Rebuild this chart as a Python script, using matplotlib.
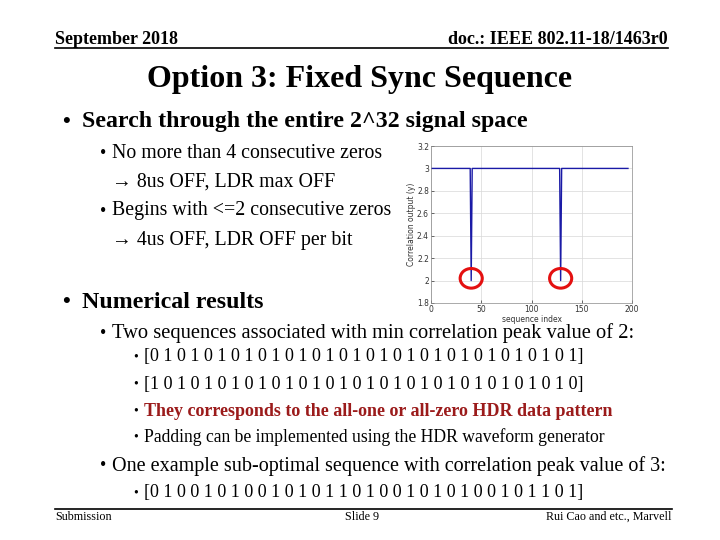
import matplotlib.pyplot as plt
from matplotlib.patches import Ellipse

# correlation output vs sequence index (breakpoints of the curve)
seq_index = [0, 39, 40, 41, 128, 129, 130, 196]
corr_out = [3, 3, 2, 3, 3, 2, 3, 3]
# min-peak locations marked with red circles
peak_x = [40, 129]
peak_y = [2.02, 2.02]

x_ticks = [0, 50, 100, 150, 200]
y_ticks = [1.8, 2, 2.2, 2.4, 2.6, 2.8, 3, 3.2]
y_tick_labels = ['1.8', '2', '2.2', '2.4', '2.6', '2.8', '3', '3.2']

seq_min1 = '[0 1 0 1 0 1 0 1 0 1 0 1 0 1 0 1 0 1 0 1 0 1 0 1 0 1 0 1 0 1 0 1]'
seq_min2 = '[1 0 1 0 1 0 1 0 1 0 1 0 1 0 1 0 1 0 1 0 1 0 1 0 1 0 1 0 1 0 1 0]'
seq_sub = '[0 1 0 0 1 0 1 0 0 1 0 1 0 1 1 0 1 0 0 1 0 1 0 1 0 0 1 0 1 1 0 1]'

W, H = 720, 540
SERIF = 'Liberation Serif'

fig = plt.figure(figsize=(7.2, 5.4), dpi=100)
fig.patch.set_facecolor('white')


def txt(x, y, s, size, bold=False, ha='left', color='black'):
    # place text using pixel coordinates of the slide (origin top-left)
    fig.text(x / W, 1 - y / H, s, fontsize=size, family=SERIF,
             fontweight='bold' if bold else 'normal', ha=ha, va='center', color=color)


def hline(y, x0, x1, lw=1.2):
    fig.add_artist(plt.Line2D([x0 / W, x1 / W], [1 - y / H, 1 - y / H],
                              color='black', lw=lw, transform=fig.transFigure))


# header
txt(55, 39, 'September 2018', 13, bold=True)
txt(668, 40, 'doc.: IEEE 802.11-18/1463r0', 13, bold=True, ha='right')
hline(48, 55, 668)

txt(360, 80, 'Option 3: Fixed Sync Sequence', 23, bold=True, ha='center')

# bullets
txt(62, 122, '\u2022', 16, bold=True)
txt(82, 122, 'Search through the entire 2^32 signal space', 17.2, bold=True)

txt(100, 153, '\u2022', 13)
txt(112, 153, 'No more than 4 consecutive zeros', 14.3)
txt(112, 182, '\u2192 8us OFF, LDR max OFF', 14.3)
txt(100, 211, '\u2022', 13)
txt(112, 211, 'Begins with <=2 consecutive zeros', 14.3)
txt(112, 240, '\u2192 4us OFF, LDR OFF per bit', 14.3)

txt(62, 302, '\u2022', 16, bold=True)
txt(82, 302, 'Numerical results', 17.2, bold=True)

txt(100, 333, '\u2022', 13)
txt(112, 333, 'Two sequences associated with min correlation peak value of 2:', 14.8)

sub_items = [(357, seq_min1, 'black', False, 13),
             (384, seq_min2, 'black', False, 13),
             (411, 'They corresponds to the all-one or all-zero HDR data pattern', '#9b1b1b', True, 13),
             (437, 'Padding can be implemented using the HDR waveform generator', 'black', False, 12.7)]
for yy, s, c, b, fs in sub_items:
    txt(133, yy, '\u2022', 10)
    txt(144, yy, s, fs, bold=b, color=c)

txt(100, 466, '\u2022', 13)
txt(112, 466, 'One example sub-optimal sequence with correlation peak value of 3:', 14.5)
txt(133, 493, '\u2022', 10)
txt(144, 493, seq_sub, 13)

# footer
hline(509, 55, 672)
txt(55, 517, 'Submission', 8.7)
txt(362, 517, 'Slide 9', 8.7, ha='center')
txt(672, 517, 'Rui Cao and etc., Marvell', 8.7, ha='right')

# embedded correlation plot
ax = fig.add_axes([431 / W, 1 - 303 / H, 201 / W, 157 / H])
ax.plot(seq_index, corr_out, color='#1a1aa6', lw=1.0)
ax.set_xlim(0, 200)
ax.set_ylim(1.8, 3.2)
ax.set_xticks(x_ticks)
ax.set_yticks(y_ticks)
ax.set_yticklabels(y_tick_labels)
ax.tick_params(labelsize=5.5, length=2, width=0.5, colors='#333333', pad=1.5, direction='in')
ax.grid(True, color='#d8d8d8', lw=0.5)
for sp in ax.spines.values():
    sp.set_color('#888888')
    sp.set_linewidth(0.5)
ax.set_xlabel('sequence index', fontsize=5.5, labelpad=0.5, color='#333333')
ax.set_ylabel('Correlation output (y)', fontsize=5.5, labelpad=1, color='#333333')

for px, py in zip(peak_x, peak_y):
    ax.add_patch(Ellipse((px, py), 22, 0.175, fill=False, edgecolor='#e41010',
                         lw=2.2, clip_on=False, zorder=5))

fig.savefig('out.png', dpi=100, facecolor='white')
